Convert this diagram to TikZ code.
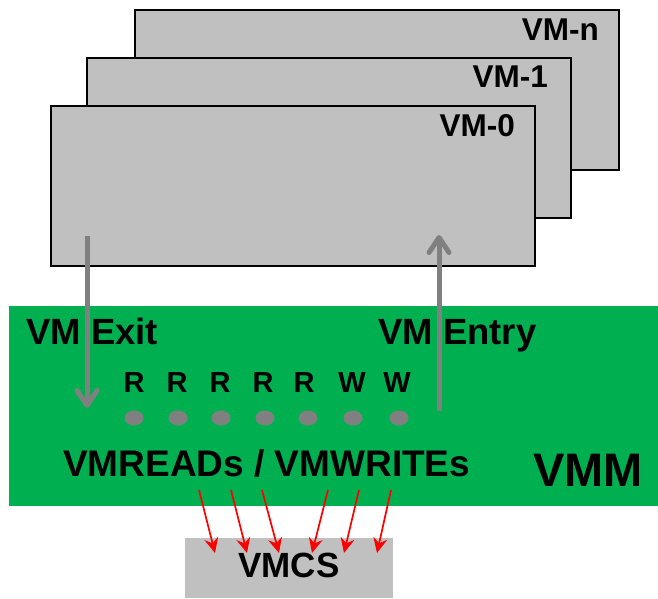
\documentclass[tikz,border=0pt]{standalone}
\usepackage{fontspec}
\setmainfont{Liberation Sans}
\usetikzlibrary{arrows.meta,shapes.geometric}
\definecolor{vmgray}{HTML}{C0C0C0}
\definecolor{vmmgreen}{HTML}{00B050}
\definecolor{arrgray}{HTML}{808080}
\newcommand{\fsz}[1]{\fontsize{#1}{#1}\selectfont\bfseries}
\begin{document}
\begin{tikzpicture}[x=1pt,y=-1pt,
  vmbox/.style={draw=black, line width=2pt, fill=vmgray, rectangle, anchor=north west,
    minimum width=484pt, minimum height=160pt, inner sep=0pt, outer sep=0pt},
  vmlabel/.style={anchor=base east, inner sep=0pt, font=\fsz{31.5}},
  biglabel/.style={anchor=base west, inner sep=0pt, font=\fsz{36.5}},
  rwlabel/.style={anchor=base, inner sep=0pt, font=\fsz{29}},
  dot/.style={ellipse, fill=arrgray, minimum width=19pt, minimum height=15pt, inner sep=0pt},
  grayarrow/.style={draw=arrgray, line width=5pt, -{Straight Barb[length=15pt,width=20pt,round]}},
  redarrow/.style={draw=red, line width=1.7pt, -{Stealth[length=15pt,width=14pt,inset=5pt]}}
]
\useasboundingbox (0,0) rectangle (658,599);
% VM stack
\node[vmbox] (vmn) at (135,10) {};
\node[vmlabel] (lvmn) at (599,41) {VM-n};
\node[vmbox] (vm1) at (87,58) {};
\node[vmlabel] (lvm1) at (548,88) {VM-1};
\node[vmbox] (vm0) at (51,106) {};
\node[vmlabel] (lvm0) at (515,136) {VM-0};
% VMM
\node[fill=vmmgreen, anchor=north west, minimum width=649pt, minimum height=200pt, inner sep=0pt, outer sep=0pt] (vmm) at (9,306) {};
% VMCS
\node[fill=vmgray, anchor=north west, minimum width=208pt, minimum height=60pt, inner sep=0pt, outer sep=0pt] (vmcs) at (185,538) {};
\node[anchor=base, inner sep=0pt, font=\fsz{35}] (vmcslabel) at (289,577) {VMCS};
% exit / entry arrows
\coordinate (exitS) at (87,236);
\coordinate (exitE) at (87,408);
\coordinate (entryS) at (439,411);
\coordinate (entryE) at (439,235);
\draw[grayarrow] (exitS) -- (exitE);
\draw[grayarrow] (entryS) -- (entryE);
\node[biglabel] (exitlabel) at (26,344) {VM Exit};
\node[biglabel] (entrylabel) at (378,344) {VM Entry};
% R/W
\node[rwlabel] (r1) at (134,392) {R};
\node[rwlabel] (r2) at (177,392) {R};
\node[rwlabel] (r3) at (220,392) {R};
\node[rwlabel] (r4) at (263,392) {R};
\node[rwlabel] (r5) at (304,392) {R};
\node[rwlabel] (w1) at (352,392) {W};
\node[rwlabel] (w2) at (397,392) {W};
\node[dot] (d1) at (134,418) {};
\node[dot] (d2) at (178,418) {};
\node[dot] (d3) at (221,418) {};
\node[dot] (d4) at (265,418) {};
\node[dot] (d5) at (308,418) {};
\node[dot] (d6) at (353,418) {};
\node[dot] (d7) at (399,418) {};
\node[anchor=base west, inner sep=0pt, font=\fsz{37}] (rw) at (63,476) {VMREADs / VMWRITEs};
\node[anchor=base west, inner sep=0pt, font=\fsz{47}] (vmmlabel) at (533,486) {VMM};
% red arrows
\coordinate (a1) at (199,490); \coordinate (b1) at (215,553);
\coordinate (a2) at (231,490); \coordinate (b2) at (247,553);
\coordinate (a3) at (262,490); \coordinate (b3) at (279,553);
\coordinate (a4) at (328,490); \coordinate (b4) at (312,553);
\coordinate (a5) at (359,490); \coordinate (b5) at (344,553);
\coordinate (a6) at (391,490); \coordinate (b6) at (377,553);
\foreach \i in {1,...,6} \draw[redarrow] (a\i) -- (b\i);
\end{tikzpicture}
\end{document}
